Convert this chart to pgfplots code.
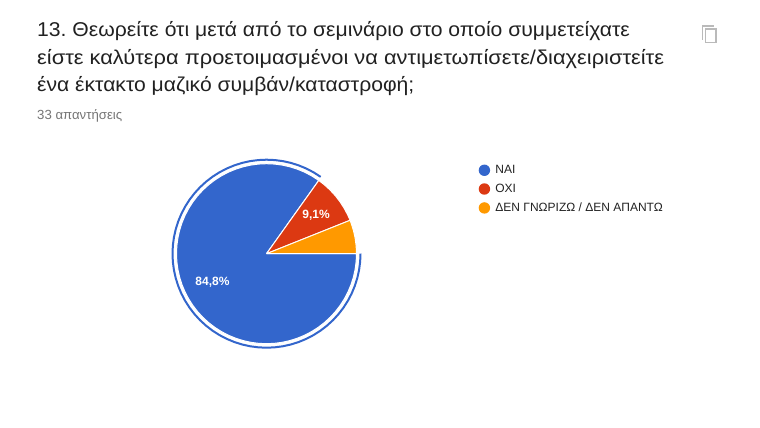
\documentclass[border=0pt]{standalone}
\usepackage{pgfplots}
\pgfplotsset{compat=1.18}
\usepackage{fontspec}
\setmainfont{Liberation Sans}
\definecolor{cblue}{HTML}{3366CC}
\definecolor{cred}{HTML}{DC3912}
\definecolor{corange}{HTML}{FF9900}
\newcommand\PX[2]{axis cs:{#1-266.5},{253.7-#2}}
\frenchspacing
\begin{document}
\begin{tikzpicture}
\begin{axis}[
  scale only axis, width=760pt, height=428pt,
  xmin=-266.5, xmax=493.5, ymin=-174.3, ymax=253.7,
  hide axis, clip=false,
  legend cell align=left,
  legend image code/.code={\fill[#1,draw=none] (0pt,0pt) circle (5.7pt); \path (8.5pt,0pt);},
  legend style={at={(\PX{475.5}{161.2})}, anchor=north west, draw=none, fill=none,
    font=\fontsize{12}{12}\selectfont\color[HTML]{222222}, row sep=4.9pt,
    /tikz/every even column/.append style={column sep=0pt}},
]
\path[fill=white] (rel axis cs:0,0) rectangle (rel axis cs:1,1);
% 84.8 % NAI: 54.5 deg to 360 deg
\addplot[fill=cblue, draw=white, line width=1pt, data cs=polar] coordinates {
 (0,0) (54.5,90) (60,90) (65,90) (70,90) (75,90) (80,90) (85,90) (90,90) (95,90) (100,90)
 (105,90) (110,90) (115,90) (120,90) (125,90) (130,90) (135,90) (140,90) (145,90) (150,90)
 (155,90) (160,90) (165,90) (170,90) (175,90) (180,90) (185,90) (190,90) (195,90) (200,90)
 (205,90) (210,90) (215,90) (220,90) (225,90) (230,90) (235,90) (240,90) (245,90) (250,90)
 (255,90) (260,90) (265,90) (270,90) (275,90) (280,90) (285,90) (290,90) (295,90) (300,90)
 (305,90) (310,90) (315,90) (320,90) (325,90) (330,90) (335,90) (340,90) (345,90) (350,90)
 (355,90) (360,90) (0,0)};
\addlegendentry{ΝΑΙ}
% 9.1 % ΟΧΙ: 21.8 deg to 54.5 deg
\addplot[fill=cred, draw=white, line width=1pt, data cs=polar] coordinates {
 (0,0) (21.8,90) (25,90) (30,90) (35,90) (40,90) (45,90) (50,90) (54.5,90) (0,0)};
\addlegendentry{ΟΧΙ}
% 6.1 %: 0 deg to 21.8 deg
\addplot[fill=corange, draw=white, line width=1pt, data cs=polar] coordinates {
 (0,0) (0,90) (5,90) (10,90) (15,90) (20,90) (21.8,90) (0,0)};
\addlegendentry{ΔΕΝ ΓΝΩΡΙΖΩ / ΔΕΝ ΑΠΑΝΤΩ}
% highlight ring
\addplot[draw=cblue, line width=2pt, data cs=polar, forget plot] coordinates {
 (54.8,94) (60,94) (65,94) (70,94) (75,94) (80,94) (85,94) (90,94) (95,94) (100,94)
 (105,94) (110,94) (115,94) (120,94) (125,94) (130,94) (135,94) (140,94) (145,94) (150,94)
 (155,94) (160,94) (165,94) (170,94) (175,94) (180,94) (185,94) (190,94) (195,94) (200,94)
 (205,94) (210,94) (215,94) (220,94) (225,94) (230,94) (235,94) (240,94) (245,94) (250,94)
 (255,94) (260,94) (265,94) (270,94) (275,94) (280,94) (285,94) (290,94) (295,94) (300,94)
 (305,94) (310,94) (315,94) (320,94) (325,94) (330,94) (335,94) (340,94) (345,94) (350,94)
 (355,94) (360,94)};
\node[white,font=\fontsize{12}{12}\selectfont\bfseries,inner sep=0pt] at (\PX{212.5}{282}) {84,8\%};
\node[white,font=\fontsize{12}{12}\selectfont\bfseries,inner sep=0pt] at (\PX{316}{215}) {9,1\%};
\node[anchor=base west,inner sep=0pt,text=black!87,font=\fontsize{20}{20}\selectfont] at (\PX{37}{37}) {\scalebox{1.058}[1]{13. Θεωρείτε ότι μετά από το σεμινάριο στο οποίο συμμετείχατε}};
\node[anchor=base west,inner sep=0pt,text=black!87,font=\fontsize{20}{20}\selectfont] at (\PX{37}{64.5}) {\scalebox{1.092}[1]{είστε καλύτερα προετοιμασμένοι να αντιμετωπίσετε/διαχειριστείτε}};
\node[anchor=base west,inner sep=0pt,text=black!87,font=\fontsize{20}{20}\selectfont] at (\PX{37}{92}) {\scalebox{1.056}[1]{ένα έκτακτο μαζικό συμβάν/καταστροφή;}};
\node[anchor=base west,inner sep=0pt,text=black!54,font=\fontsize{13.2}{13}\selectfont] at (\PX{37}{119.5}) {33 απαντήσεις};
% copy icon
\draw[color=black!27,line width=1.5pt] (\PX{702.5}{40}) -- (\PX{702.5}{26}) -- (\PX{714}{26});
\draw[color=black!27,line width=1.5pt] (\PX{705.5}{29}) rectangle (\PX{716}{42.5});
\end{axis}
\end{tikzpicture}
\end{document}
